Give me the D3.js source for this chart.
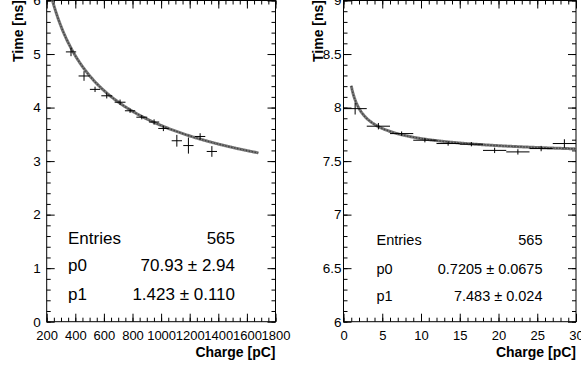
<!DOCTYPE html>
<html>
<head>
<meta charset="utf-8">
<script src="https://cdn.jsdelivr.net/npm/d3@7"></script>
<style>
  body { margin: 0; background: #fff; }
  text { font-family: "Liberation Sans", Arial, sans-serif; fill: #000; }
  .axis path, .axis line { stroke: #000; stroke-width: 1; }
</style>
</head>
<body>
<div id="chart"></div>
<script>
// left panel: time vs charge, 200-1800 pC
const leftX = [370, 461, 538, 620, 713, 783, 865, 951, 1016, 1110, 1191, 1273, 1355];
const leftY = [5.04, 4.59, 4.34, 4.22, 4.10, 3.94, 3.82, 3.73, 3.61, 3.38, 3.29, 3.46, 3.18];
const leftXErr = [36, 38, 36, 38, 38, 36, 38, 36, 36, 36, 36, 36, 36];
const leftYErr = [0.08, 0.09, 0.05, 0.05, 0.05, 0.04, 0.04, 0.05, 0.05, 0.11, 0.15, 0.06, 0.10];
const leftXTicks = [200, 400, 600, 800, 1000, 1200, 1400, 1600, 1800];
const leftYTicks = [0, 1, 2, 3, 4, 5, 6];
const leftFit = { p0: 70.93, p1: 1.423, from: 200, to: 1680 };
const leftStats = [["Entries", "565"], ["p0", "70.93 \u00b1 2.94"], ["p1", "1.423 \u00b1 0.110"]];

// right panel: time vs charge, 0-30 pC
const rightX = [1.5, 4.5, 7.5, 10.5, 13.5, 16.5, 19.5, 22.5, 25.5, 28.5];
const rightY = [7.99, 7.826, 7.757, 7.695, 7.664, 7.658, 7.60, 7.586, 7.617, 7.664];
const rightXErr = [1.5, 1.5, 1.5, 1.5, 1.5, 1.5, 1.5, 1.5, 1.5, 1.5];
const rightYErr = [0.055, 0.03, 0.02, 0.02, 0.02, 0.02, 0.025, 0.025, 0.025, 0.04];
const rightXTicks = [0, 5, 10, 15, 20, 25, 30];
const rightYTicks = [6, 6.5, 7, 7.5, 8, 8.5, 9];
const rightFit = { p0: 0.7205, p1: 7.483, from: 1.0, to: 30 };
const rightStats = [["Entries", "565"], ["p0", "0.7205 \u00b1 0.0675"], ["p1", "7.483 \u00b1 0.024"]];

const W = 581, H = 369;
const plotTop = 0.5, plotBottom = 321.7;

const svg = d3.select("#chart").append("svg")
    .attr("width", W)
    .attr("height", H);

function drawPanel(cfg) {
  const x = d3.scaleLinear().domain(cfg.xDomain).range([cfg.left, cfg.right]);
  const y = d3.scaleLinear().domain(cfg.yDomain).range([plotBottom, plotTop]);
  const g = svg.append("g");

  const clipId = "clip" + cfg.id;
  svg.append("clipPath").attr("id", clipId)
    .append("rect")
      .attr("x", cfg.left).attr("y", plotTop)
      .attr("width", cfg.right - cfg.left).attr("height", plotBottom - plotTop);

  // minor ticks
  const xMinor = d3.range(cfg.xDomain[0], cfg.xDomain[1] + 1e-9, cfg.xMinorStep);
  const yMinor = d3.range(cfg.yDomain[0], cfg.yDomain[1] + 1e-9, cfg.yMinorStep);

  g.append("g").attr("class", "axis")
    .attr("transform", "translate(0," + plotBottom + ")")
    .call(d3.axisBottom(x).tickValues(xMinor).tickSize(-4).tickFormat(""));
  g.append("g").attr("class", "axis")
    .attr("transform", "translate(0," + plotTop + ")")
    .call(d3.axisTop(x).tickValues(xMinor).tickSize(-4).tickFormat(""));
  g.append("g").attr("class", "axis")
    .attr("transform", "translate(" + cfg.left + ",0)")
    .call(d3.axisLeft(y).tickValues(yMinor).tickSize(-4).tickFormat(""));
  g.append("g").attr("class", "axis")
    .attr("transform", "translate(" + cfg.right + ",0)")
    .call(d3.axisRight(y).tickValues(yMinor).tickSize(-4).tickFormat(""));

  // major ticks + labels
  const xAx = g.append("g").attr("class", "axis")
    .attr("transform", "translate(0," + plotBottom + ")")
    .call(d3.axisBottom(x).tickValues(cfg.xTicks).tickSize(-8).tickSizeOuter(0)
      .tickPadding(9.5).tickFormat(d3.format("")));
  xAx.selectAll("text").style("font-size", "13px");
  g.append("g").attr("class", "axis")
    .attr("transform", "translate(0," + plotTop + ")")
    .call(d3.axisTop(x).tickValues(cfg.xTicks).tickSize(-8).tickSizeOuter(0).tickFormat(""));
  const yAx = g.append("g").attr("class", "axis")
    .attr("transform", "translate(" + cfg.left + ",0)")
    .call(d3.axisLeft(y).tickValues(cfg.yTicks).tickSize(-8).tickSizeOuter(0)
      .tickPadding(cfg.yPad).tickFormat(d3.format("")));
  yAx.selectAll("text").style("font-size", "13.5px");
  g.append("g").attr("class", "axis")
    .attr("transform", "translate(" + cfg.right + ",0)")
    .call(d3.axisRight(y).tickValues(cfg.yTicks).tickSize(-8).tickSizeOuter(0).tickFormat(""));
  g.selectAll(".axis path.domain").remove();

  // frame
  g.append("rect")
    .attr("x", cfg.left).attr("y", plotTop)
    .attr("width", cfg.right - cfg.left).attr("height", plotBottom - plotTop)
    .attr("fill", "none").attr("stroke", "#000").attr("stroke-width", 1);

  // fit curve from its parameters
  const fx = d3.range(cfg.fit.from, cfg.fit.to, (cfg.fit.to - cfg.fit.from) / 300).concat([cfg.fit.to]);
  const line = d3.line()
    .x(d => x(d))
    .y(d => y(cfg.fit.p0 / Math.sqrt(d) + cfg.fit.p1));
  const fg = g.append("g").attr("clip-path", "url(#" + clipId + ")");
  fg.append("path").datum(fx)
    .attr("d", line).attr("fill", "none")
    .attr("stroke", "#7a7a7a").attr("stroke-width", 3);
  fg.append("path").datum(fx)
    .attr("d", line).attr("fill", "none")
    .attr("stroke", "#444").attr("stroke-width", 1.4)
    .attr("stroke-dasharray", "1.5,1.5");

  // points with error bars
  const pts = cfg.xs.map((v, i) => ({ x: v, y: cfg.ys[i], ex: cfg.xErr[i], ey: cfg.yErr[i] }));
  const pg = g.append("g").attr("clip-path", "url(#" + clipId + ")");
  pg.selectAll(".ex").data(pts).join("line")
    .attr("x1", d => x(d.x - d.ex)).attr("x2", d => x(d.x + d.ex))
    .attr("y1", d => y(d.y)).attr("y2", d => y(d.y))
    .attr("stroke", "#000").attr("stroke-width", 1);
  pg.selectAll(".ey").data(pts).join("line")
    .attr("x1", d => x(d.x)).attr("x2", d => x(d.x))
    .attr("y1", d => y(d.y - d.ey)).attr("y2", d => y(d.y + d.ey))
    .attr("stroke", "#000").attr("stroke-width", 1);

  // stats
  cfg.stats.forEach((row, i) => {
    g.append("text").attr("x", cfg.statLeft).attr("y", cfg.statY[i])
      .style("font-size", cfg.statFont + "px").text(row[0]);
    g.append("text").attr("x", cfg.statRight).attr("y", cfg.statY[i])
      .attr("text-anchor", "end")
      .style("font-size", cfg.statFont + "px").text(row[1]);
  });

  // axis titles
  g.append("text")
    .attr("x", cfg.right).attr("y", 357)
    .attr("text-anchor", "end")
    .style("font-size", "14px").style("font-weight", "bold")
    .text("Charge [pC]");
  g.append("text")
    .attr("transform", "translate(" + cfg.yTitleX + ",0) rotate(-90)")
    .attr("text-anchor", "end")
    .style("font-size", "14px").style("font-weight", "bold")
    .text("Time [ns]");
}

drawPanel({
  id: "L", left: 46.7, right: 275.5,
  xDomain: [200, 1800], yDomain: [0, 6],
  xTicks: leftXTicks, yTicks: leftYTicks,
  xMinorStep: 50, yMinorStep: 0.2, yPad: 6,
  xs: leftX, ys: leftY, xErr: leftXErr, yErr: leftYErr,
  fit: leftFit, stats: leftStats,
  statLeft: 68, statRight: 235, statY: [243.5, 271, 300], statFont: 17,
  yTitleX: 23
});

drawPanel({
  id: "R", left: 343.5, right: 576,
  xDomain: [0, 30], yDomain: [6, 9],
  xTicks: rightXTicks, yTicks: rightYTicks,
  xMinorStep: 1, yMinorStep: 0.1, yPad: 2,
  xs: rightX, ys: rightY, xErr: rightXErr, yErr: rightYErr,
  fit: rightFit, stats: rightStats,
  statLeft: 376.5, statRight: 542.5, statY: [245, 273.5, 301], statFont: 14.5,
  yTitleX: 323
});
</script>
</body>
</html>
